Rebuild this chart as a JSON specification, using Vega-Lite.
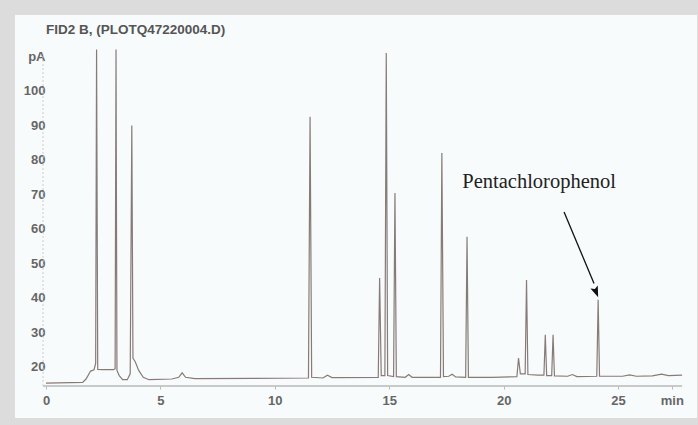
{
  "$schema": "https://vega.github.io/schema/vega-lite/v6.json",
  "width": 682,
  "height": 403,
  "autosize": {"type": "none"},
  "padding": {"left": 15, "top": 15, "right": 1, "bottom": 7},
  "background": "#dcdcdc",
  "config": {"view": {"fill": "#f8fbfc", "stroke": null}},
  "title": {
    "text": "FID2 B, (PLOTQ47220004.D)",
    "anchor": "start",
    "frame": "group",
    "dx": 31,
    "offset": -21,
    "font": "Liberation Sans",
    "fontSize": 13.5,
    "fontWeight": "bold",
    "color": "#555555"
  },
  "datasets": {
    "signal": [
      {"t": 0, "pA": 15.3}, {"t": 1.6, "pA": 15.5}, {"t": 1.75, "pA": 16.5}, {"t": 1.95, "pA": 18.8},
      {"t": 2.1, "pA": 19.2}, {"t": 2.17, "pA": 21.0}, {"t": 2.21, "pA": 112}, {"t": 2.26, "pA": 19.3},
      {"t": 2.5, "pA": 19.2}, {"t": 2.95, "pA": 19.2}, {"t": 3.02, "pA": 19.5}, {"t": 3.06, "pA": 112},
      {"t": 3.1, "pA": 19.0}, {"t": 3.2, "pA": 17.5}, {"t": 3.35, "pA": 16.3}, {"t": 3.55, "pA": 16.3},
      {"t": 3.68, "pA": 18.0}, {"t": 3.75, "pA": 90}, {"t": 3.8, "pA": 22.5}, {"t": 3.9, "pA": 21.5},
      {"t": 4.05, "pA": 19.0}, {"t": 4.25, "pA": 17.0}, {"t": 4.5, "pA": 16.3}, {"t": 5.5, "pA": 16.5},
      {"t": 5.8, "pA": 17.0}, {"t": 5.95, "pA": 18.3}, {"t": 6.1, "pA": 17.0}, {"t": 6.5, "pA": 16.6},
      {"t": 11.47, "pA": 16.8}, {"t": 11.54, "pA": 92.5}, {"t": 11.61, "pA": 17.0}, {"t": 12.1, "pA": 16.8},
      {"t": 12.3, "pA": 17.6}, {"t": 12.5, "pA": 16.9}, {"t": 14.52, "pA": 17.0}, {"t": 14.58, "pA": 45.8},
      {"t": 14.65, "pA": 17.5}, {"t": 14.81, "pA": 17.5}, {"t": 14.87, "pA": 111}, {"t": 14.93, "pA": 17.5},
      {"t": 15.19, "pA": 17.2}, {"t": 15.25, "pA": 70.4}, {"t": 15.31, "pA": 17.2}, {"t": 15.7, "pA": 17.0},
      {"t": 15.85, "pA": 17.8}, {"t": 16.0, "pA": 17.0}, {"t": 17.24, "pA": 17.0}, {"t": 17.3, "pA": 82},
      {"t": 17.37, "pA": 17.2}, {"t": 17.6, "pA": 17.3}, {"t": 17.75, "pA": 17.9}, {"t": 17.9, "pA": 17.1},
      {"t": 18.34, "pA": 17.0}, {"t": 18.4, "pA": 57.7}, {"t": 18.46, "pA": 17.0}, {"t": 19.5, "pA": 17.0},
      {"t": 20.58, "pA": 17.2}, {"t": 20.65, "pA": 22.6}, {"t": 20.73, "pA": 18.0}, {"t": 20.94, "pA": 18.0},
      {"t": 21.0, "pA": 45.2}, {"t": 21.06, "pA": 17.8}, {"t": 21.5, "pA": 17.6}, {"t": 21.76, "pA": 17.6},
      {"t": 21.82, "pA": 29.3}, {"t": 21.88, "pA": 17.5}, {"t": 22.1, "pA": 17.5}, {"t": 22.16, "pA": 29.3},
      {"t": 22.22, "pA": 17.4}, {"t": 22.8, "pA": 17.3}, {"t": 23.0, "pA": 17.8}, {"t": 23.2, "pA": 17.2},
      {"t": 24.07, "pA": 17.3}, {"t": 24.13, "pA": 39.5}, {"t": 24.19, "pA": 17.3}, {"t": 25.2, "pA": 17.3},
      {"t": 25.5, "pA": 17.7}, {"t": 25.8, "pA": 17.3}, {"t": 26.5, "pA": 17.4}, {"t": 26.9, "pA": 17.9},
      {"t": 27.2, "pA": 17.5}, {"t": 27.8, "pA": 17.6}
    ]
  },
  "layer": [
    {
      "data": {"name": "signal"},
      "mark": {"type": "line", "color": "#877b77", "strokeWidth": 1.2},
      "encoding": {
        "x": {
          "field": "t", "type": "quantitative",
          "scale": {"domain": [-1.355, 28.45], "nice": false, "zero": false},
          "axis": {
            "orient": "bottom", "offset": -32, "title": null,
            "values": [0, 5, 10, 15, 20, 25, 27.35],
            "labelExpr": "datum.value > 26 ? 'min' : datum.label",
            "domain": false, "grid": false, "ticks": true, "tickSize": 3, "tickColor": "#bbbbbb",
            "labelFont": "Liberation Sans", "labelFontSize": 13, "labelFontWeight": "bold",
            "labelColor": "#666666", "labelPadding": 5
          }
        },
        "y": {
          "field": "pA", "type": "quantitative",
          "scale": {"domain": [5.2, 122.0], "nice": false, "zero": false},
          "axis": {
            "orient": "left", "offset": -31, "title": null,
            "values": [20, 30, 40, 50, 60, 70, 80, 90, 100, 110],
            "labelExpr": "datum.value == 110 ? 'pA' : datum.label",
            "domain": false, "grid": false, "ticks": false,
            "labelFont": "Liberation Sans", "labelFontSize": 13, "labelFontWeight": "bold",
            "labelColor": "#666666", "labelPadding": 1
          }
        }
      }
    },
    {
      "data": {"values": [{}]},
      "mark": {"type": "rule", "color": "#b8b8b8", "strokeWidth": 1.5},
      "encoding": {
        "x": {"datum": -0.13, "type": "quantitative"},
        "x2": {"datum": 27.8},
        "y": {"datum": 14.5, "type": "quantitative"}
      }
    },
    {
      "data": {"values": [{}]},
      "mark": {"type": "rule", "color": "#cccccc", "strokeWidth": 1, "strokeDash": [2, 2]},
      "encoding": {
        "x": {"datum": -0.13, "type": "quantitative"},
        "y": {"datum": 14.5, "type": "quantitative"},
        "y2": {"datum": 111}
      }
    },
    {
      "data": {"values": [{}]},
      "mark": {"type": "text", "text": "Pentachlorophenol", "font": "Liberation Serif", "fontSize": 20.5, "color": "#222222", "baseline": "middle", "align": "center"},
      "encoding": {
        "x": {"datum": 21.55, "type": "quantitative"},
        "y": {"datum": 73.6, "type": "quantitative"}
      }
    },
    {
      "data": {"values": [{}]},
      "mark": {"type": "rule", "color": "#111111", "strokeWidth": 1.3},
      "encoding": {
        "x": {"datum": 22.64, "type": "quantitative"},
        "y": {"datum": 64.9, "type": "quantitative"},
        "x2": {"datum": 23.95},
        "y2": {"datum": 44.2}
      }
    },
    {
      "data": {"values": [{}]},
      "mark": {"type": "point", "shape": "M0,0L-0.36,-1L0,-0.82L0.36,-1Z", "filled": true, "color": "#111111", "size": 480, "angle": -21.6, "opacity": 1, "strokeWidth": 0},
      "encoding": {
        "x": {"datum": 24.13, "type": "quantitative"},
        "y": {"datum": 40.2, "type": "quantitative"}
      }
    }
  ]
}
